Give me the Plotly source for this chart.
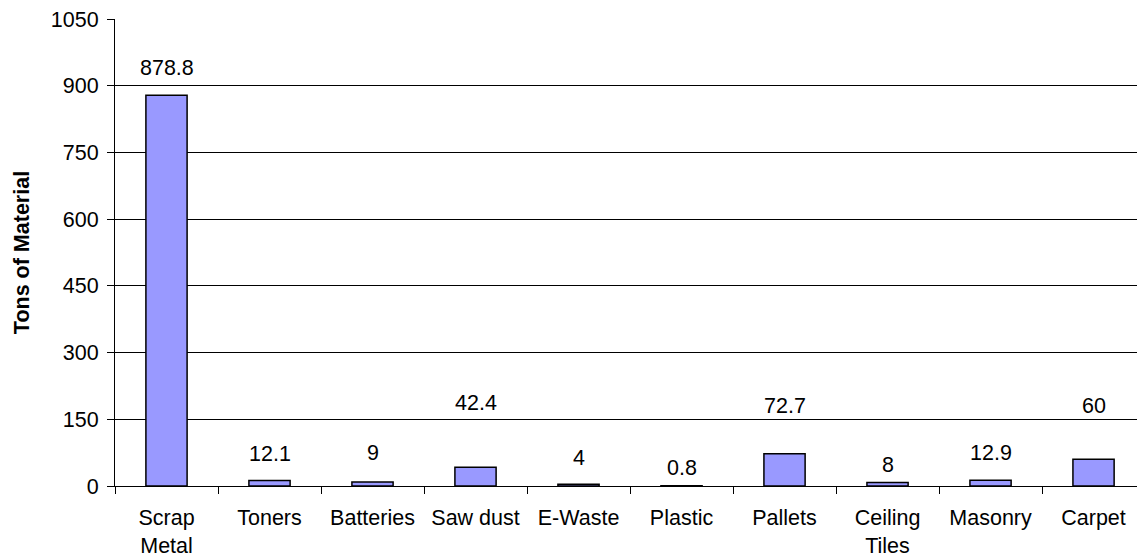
import plotly.graph_objects as go

categories = ["Scrap<br>Metal", "Toners", "Batteries", "Saw dust", "E-Waste",
              "Plastic", "Pallets", "Ceiling<br>Tiles", "Masonry", "Carpet"]
values = [878.8, 12.1, 9, 42.4, 4, 0.8, 72.7, 8, 12.9, 60]
value_labels = ["878.8", "12.1", "9", "42.4", "4", "0.8", "72.7", "8", "12.9", "60"]
label_shift_px = [27, 27, 29, 64, 26, 18, 48, 17, 27, 53]
y_ticks = [0, 150, 300, 450, 600, 750, 900, 1050]

FONT = "Arial, Liberation Sans, sans-serif"
FS = 21.5

fig = go.Figure()
fig.add_trace(go.Bar(
    x=categories, y=values, width=0.4,
    marker=dict(color="#9999FF", line=dict(color="black", width=1.5)),
    hoverinfo="skip",
))

for c, v, t, s in zip(categories, values, value_labels, label_shift_px):
    fig.add_annotation(x=c, y=v, text=t, showarrow=False, yshift=s,
                       yanchor="middle", xanchor="center",
                       font=dict(family=FONT, size=FS, color="black"))

fig.update_layout(
    width=1137, height=559,
    margin=dict(l=115, r=0, t=19, b=73, autoexpand=False),
    paper_bgcolor="white", plot_bgcolor="white",
    showlegend=False,
    font=dict(family=FONT, size=FS, color="black"),
)
fig.update_xaxes(
    type="category", range=[-0.5, 9.422], automargin=False,
    tickson="boundaries", ticks="outside", ticklen=7, tickcolor="black",
    showline=True, linecolor="black", linewidth=1,
    showgrid=False, ticklabelstandoff=12,
    tickfont=dict(family=FONT, size=FS, color="black"),
)
fig.update_yaxes(
    range=[0, 1050], tickvals=y_ticks, ticktext=[str(v) for v in y_ticks],
    automargin=False,
    ticks="outside", ticklen=7, tickcolor="black",
    showline=True, linecolor="black", linewidth=1,
    showgrid=True, gridcolor="black", gridwidth=1, zeroline=False,
    ticklabelstandoff=4,
    tickfont=dict(family=FONT, size=FS, color="black"),
    title=dict(text="<b>Tons of Material</b>", standoff=15,
               font=dict(family=FONT, size=FS, color="black")),
)

fig.write_html("out.html", config={"displayModeBar": False},
               post_script="document.body.style.margin='0px';document.body.style.overflow='hidden';")
